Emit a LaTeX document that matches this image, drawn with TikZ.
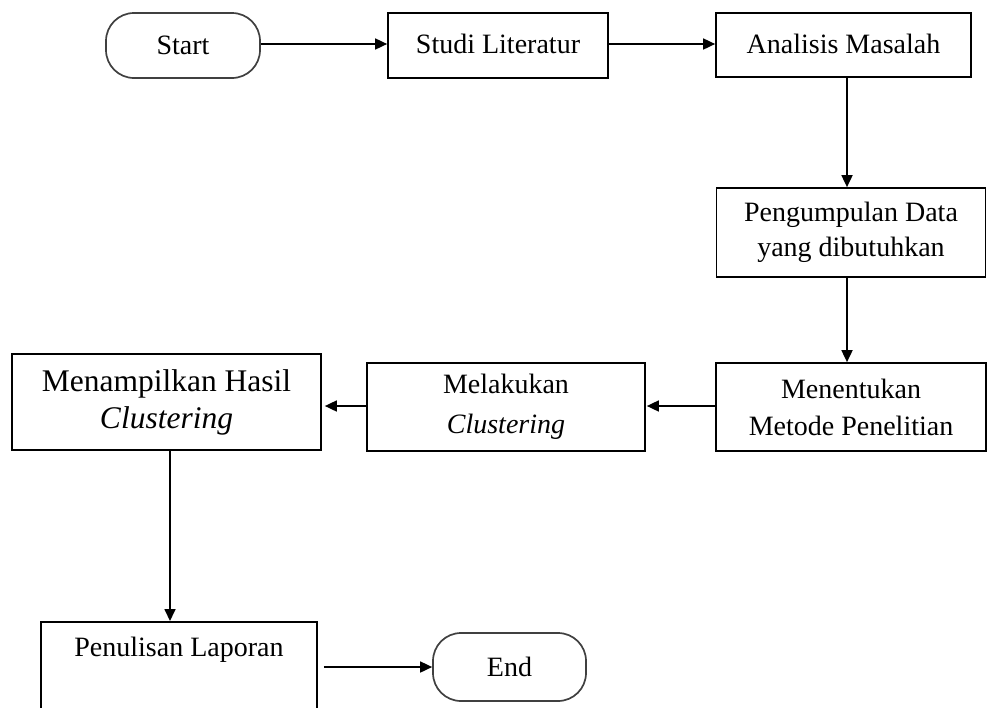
\documentclass[tikz,border=0pt]{standalone}
\usepackage{fontspec}
\setmainfont{Liberation Serif}
\usetikzlibrary{arrows.meta,calc}
\begin{document}
\begin{tikzpicture}[x=1pt,y=-1pt,
  stepbox/.style={draw=black,line width=1.7pt,rectangle,inner sep=0pt,align=center,
    font=\fontsize{28}{35}\selectfont},
  termbox/.style={stepbox,rounded corners=28pt,draw=black!75},
  txt/.style={inner sep=0pt,align=center,font=\fontsize{28}{35}\selectfont},
  arr/.style={draw=black,line width=1.7pt,-{Triangle[length=12pt,width=11pt]}},
  ]
\useasboundingbox (0,0) rectangle (987,707);
\fill[white] (0,0) rectangle (987,707);

\node[termbox,minimum width=154pt,minimum height=65pt] (start) at (183,45.5) {Start};
\node[stepbox,minimum width=220pt,minimum height=65pt] (studi) at (498,45.5) {\raisebox{3pt}{Studi Literatur}};
\node[stepbox,minimum width=255pt,minimum height=64pt] (anal) at (843.5,45) {\raisebox{3pt}{Analisis Masalah}};
\node[stepbox,minimum width=269pt,minimum height=89pt] (peng) at (851,232.5) {Pengumpulan Data\\yang dibutuhkan};
\node[stepbox,minimum width=270pt,minimum height=88pt] (mene) at (851,407) {\raisebox{2pt}{Menentukan}\\Metode Penelitian};
\node[stepbox,minimum width=278pt,minimum height=88pt,font=\fontsize{28}{40}\selectfont] (mela) at (506,407) {Melakukan\\\textit{Clustering}};
\node[stepbox,minimum width=309pt,minimum height=96pt,font=\fontsize{31.5}{37}\selectfont] (mena) at (166.5,402) {Menampilkan Hasil\\\textit{Clustering}};
\node[stepbox,minimum width=276pt,minimum height=130pt,anchor=north] (penu) at (179,621) {};
\node[txt] (penut) at (179,650) {Penulisan Laporan};
\node[termbox,minimum width=153pt,minimum height=68pt] (endn) at (509.5,667) {End};

\coordinate (cx1) at (847,0);
\coordinate (cx2) at (170,0);
\coordinate (cy1) at (0,406);
\coordinate (cy2) at (0,44);

\draw[arr] (start.east |- cy2) -- (studi.west |- cy2);
\draw[arr] (studi.east |- cy2) -- (anal.west |- cy2);
\draw[arr] (anal.south -| cx1) -- (peng.north -| cx1);
\draw[arr] (peng.south -| cx1) -- (mene.north -| cx1);
\draw[arr,shorten >=1pt] (mene.west |- cy1) -- (mela.east |- cy1);
\draw[arr,shorten >=3pt] (mela.west |- cy1) -- (mena.east |- cy1);
\draw[arr] (mena.south -| cx2) -- (penu.north -| cx2);
\draw[arr,shorten <=6pt] (penu.east |- endn.west) -- (endn.west);
\end{tikzpicture}
\end{document}
